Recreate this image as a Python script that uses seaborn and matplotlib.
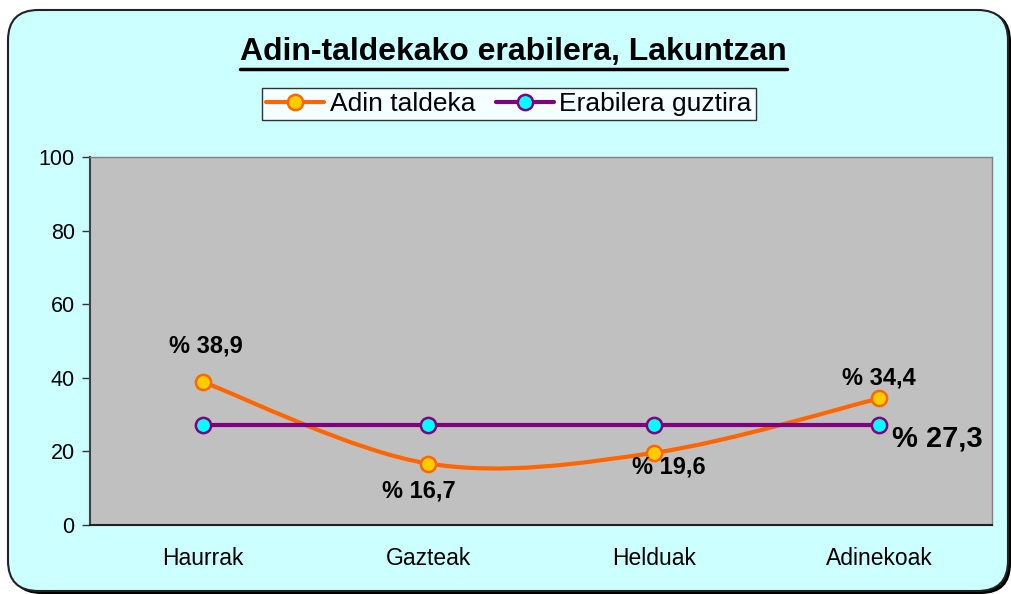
import matplotlib
matplotlib.use("Agg")
import matplotlib.pyplot as plt
import seaborn as sns
import numpy as np
from matplotlib.path import Path
from matplotlib.patches import PathPatch, FancyBboxPatch
from matplotlib.lines import Line2D

categories = ["Haurrak", "Gazteak", "Helduak", "Adinekoak"]
adin_taldeka = [38.9, 16.7, 19.6, 34.4]
erabilera_guztira = [27.3, 27.3, 27.3, 27.3]
y_ticks = [0, 20, 40, 60, 80, 100]
title = "Adin-taldekako erabilera, Lakuntzan"
series_names = ["Adin taldeka", "Erabilera guztira"]

sns.set_style("white")
plt.rcParams["font.family"] = ["Liberation Sans", "DejaVu Sans"]
plt.rcParams["text.color"] = "black"
plt.rcParams["xtick.color"] = "black"
plt.rcParams["ytick.color"] = "black"

ORANGE = "#FF6600"
YELLOW = "#FFCC00"
PURPLE = "#800080"
CYAN = "#00FFFF"
BG = "#CCFFFF"

fig = plt.figure(figsize=(10.11, 5.94), dpi=100)
fig.patch.set_facecolor("white")
W, H = 1011, 594

def fx(px):
    return px / W

def fy(py):
    return 1 - py / H

# shadow + rounded frame
shadow = FancyBboxPatch((fx(11), fy(594)), fx(1000), 583 / H,
                        boxstyle="round,pad=0,rounding_size=0.03",
                        transform=fig.transFigure, facecolor="black",
                        edgecolor="none", zorder=0, mutation_aspect=W / H)
fig.patches.append(shadow)
frame = FancyBboxPatch((fx(8), fy(591)), fx(1000), 581 / H,
                       boxstyle="round,pad=0,rounding_size=0.03",
                       transform=fig.transFigure, facecolor=BG,
                       edgecolor="#222222", linewidth=1.5, zorder=1,
                       mutation_aspect=W / H)
fig.patches.append(frame)

ax = fig.add_axes([fx(90), fy(525), fx(992 - 90), (525 - 157) / H])
ax.set_facecolor("#C0C0C0")
ax.set_zorder(2)

x = np.arange(len(categories))

# smoothed orange line (Catmull-Rom style Bezier through data points)
pts = np.column_stack([x, adin_taldeka]).astype(float)
verts = [tuple(pts[0])]
codes = [Path.MOVETO]
n = len(pts)
for i in range(n - 1):
    p0 = pts[i - 1] if i > 0 else pts[i]
    p1 = pts[i]
    p2 = pts[i + 1]
    p3 = pts[i + 2] if i + 2 < n else pts[i + 1]
    c1 = p1 + (p2 - p0) / 6.0
    c2 = p2 - (p3 - p1) / 6.0
    verts += [tuple(c1), tuple(c2), tuple(p2)]
    codes += [Path.CURVE4] * 3
ax.add_patch(PathPatch(Path(verts, codes), facecolor="none", edgecolor=ORANGE,
                       linewidth=3, zorder=3, capstyle="round"))

sns.lineplot(x=x, y=erabilera_guztira, ax=ax, color=PURPLE, linewidth=3,
             marker="o", markersize=11, markerfacecolor=CYAN,
             markeredgecolor=PURPLE, markeredgewidth=1.8, zorder=4)
sns.scatterplot(x=x, y=adin_taldeka, ax=ax, s=120, color=YELLOW,
                edgecolor=ORANGE, linewidth=1.8, zorder=5)

ax.set_xlim(-0.5, len(categories) - 0.5)
ax.set_ylim(0, 100)
ax.set_yticks(y_ticks)
ax.set_yticklabels([str(v) for v in y_ticks], fontsize=15.5)
ax.set_xticks(np.arange(-0.5, len(categories), 1.0))
ax.set_xticklabels([])
ax.set_xticks(x, minor=True)
ax.set_xticklabels(categories, minor=True, fontsize=16.5)
ax.tick_params(axis="x", which="major", length=8, width=1, color="#333333", direction="out")
ax.tick_params(axis="x", which="minor", length=0, pad=16, labelcolor="black")
ax.tick_params(axis="y", length=6, width=1, color="#333333", direction="out", pad=5,
               left=True, labelcolor="black")
ax.set_xlabel("")
ax.set_ylabel("")

for s in ["top", "right"]:
    ax.spines[s].set_color("#808080")
    ax.spines[s].set_linewidth(1)
ax.spines["left"].set_color("#404040")
ax.spines["left"].set_linewidth(1.5)
ax.spines["bottom"].set_color("#202020")
ax.spines["bottom"].set_linewidth(1.5)

# data labels
offsets = [(2, 26), (-7, -20), (11, -10), (0, 15)]
for xi, v, off in zip(x, adin_taldeka, offsets):
    ax.annotate("% " + f"{v:.1f}".replace(".", ","), (xi, v), xytext=off,
                textcoords="offset points", ha="center", va="center",
                fontsize=17, fontweight="bold", color="black", zorder=6)
ax.annotate("% " + f"{erabilera_guztira[-1]:.1f}".replace(".", ","),
            (x[-1], erabilera_guztira[-1]), xytext=(9, -10),
            textcoords="offset points", ha="left", va="center",
            fontsize=21, fontweight="bold", color="black", zorder=6)

# title with underline
fig.text(fx(513), fy(52), title, ha="center", va="center",
         fontsize=23, fontweight="bold", color="black", zorder=3)
fig.add_artist(Line2D([fx(240), fx(787)], [fy(69), fy(69)], color="black",
                      linewidth=2.5, transform=fig.transFigure, zorder=3))

handles = [
    Line2D([], [], color=ORANGE, linewidth=3, marker="o", markersize=11,
           markerfacecolor=YELLOW, markeredgecolor=ORANGE, markeredgewidth=1.8),
    Line2D([], [], color=PURPLE, linewidth=3, marker="o", markersize=11,
           markerfacecolor=CYAN, markeredgecolor=PURPLE, markeredgewidth=1.8),
]
leg = fig.legend(handles, series_names, loc="center", bbox_to_anchor=(fx(509), fy(104)),
                 ncol=2, fontsize=19, frameon=True, fancybox=False,
                 handlelength=2.2, handletextpad=0.2, columnspacing=0.8,
                 borderpad=0.15, borderaxespad=0)
leg.get_frame().set_edgecolor("black")
leg.get_frame().set_linewidth(1)
leg.get_frame().set_facecolor("white")
leg.set_zorder(3)
for txt in leg.get_texts():
    txt.set_color("black")

fig.savefig("out.png", dpi=100, facecolor=fig.get_facecolor())
